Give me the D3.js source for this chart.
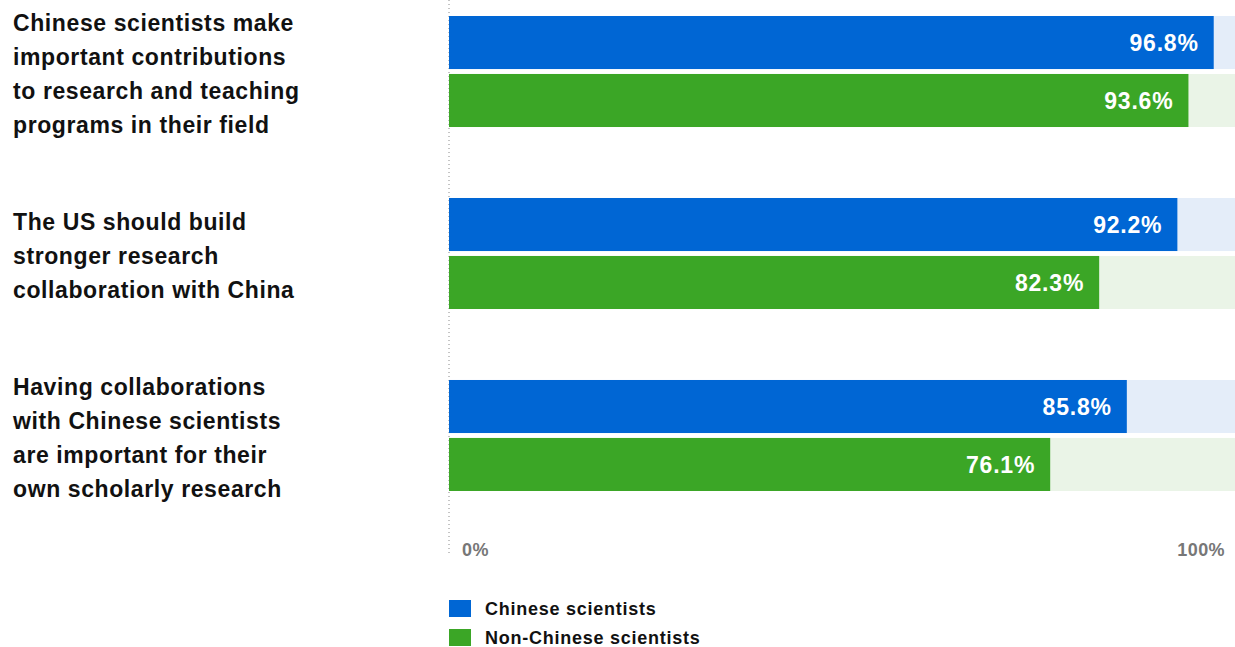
<!DOCTYPE html>
<html>
<head>
<meta charset="utf-8">
<script src="https://cdn.jsdelivr.net/npm/d3@7"></script>
<style>
  html, body { margin: 0; padding: 0; background: #ffffff; }
  svg { display: block; }
  text { font-family: "Liberation Sans", Arial, Helvetica, sans-serif; }
</style>
</head>
<body>
<svg id="chart" width="1235" height="647"></svg>
<script>
// ---- data ----
const categories = [
  "Chinese scientists make important contributions to research and teaching programs in their field",
  "The US should build stronger research collaboration with China",
  "Having collaborations with Chinese scientists are important for their own scholarly research"
];
const categoryLines = [
  ["Chinese scientists make", "important contributions", "to research and teaching", "programs in their field"],
  ["The US should build", "stronger research", "collaboration with China"],
  ["Having collaborations", "with Chinese scientists", "are important for their", "own scholarly research"]
];
const seriesNames = ["Chinese scientists", "Non-Chinese scientists"];
const chineseValues = [96.8, 92.2, 85.8];
const nonChineseValues = [93.6, 82.3, 76.1];
const tickValues = [0, 100];
const tickLabels = ["0%", "100%"];

// ---- style ----
const colors = ["#0066d4", "#3ba626"];
const bgColors = ["#e4edf9", "#eaf4e7"];

const svg = d3.select("#chart");

const x = d3.scaleLinear().domain([0, 100]).range([449, 1239]);
const y = d3.scaleBand().domain(categories).range([16, 491]).paddingInner(0.39).paddingOuter(0);
const ySub = d3.scaleBand().domain(seriesNames).range([0, y.bandwidth()]).paddingInner(0.085);

const rows = categories.map((c, i) => ({
  cat: c,
  lines: categoryLines[i],
  vals: [chineseValues[i], nonChineseValues[i]]
}));

// dotted zero line
svg.append("line")
  .attr("x1", x(0)).attr("x2", x(0))
  .attr("y1", 0).attr("y2", 556)
  .attr("stroke", "#8a8a8a").attr("stroke-width", 1)
  .attr("stroke-dasharray", "1,3");

const g = svg.selectAll("g.row").data(rows).join("g")
  .attr("class", "row")
  .attr("transform", d => `translate(0,${y(d.cat)})`);

seriesNames.forEach((s, si) => {
  // background track
  g.append("rect")
    .attr("x", x(0)).attr("y", ySub(s))
    .attr("width", x(100) - x(0)).attr("height", ySub.bandwidth())
    .attr("fill", bgColors[si]);
  // value bar
  g.append("rect")
    .attr("x", x(0)).attr("y", ySub(s))
    .attr("width", d => x(d.vals[si]) - x(0)).attr("height", ySub.bandwidth())
    .attr("fill", colors[si]);
  // value label
  g.append("text")
    .attr("x", d => x(d.vals[si]) - 15)
    .attr("y", ySub(s) + ySub.bandwidth() / 2 + 8.5)
    .attr("text-anchor", "end")
    .attr("fill", "#ffffff")
    .attr("font-size", 23)
    .attr("font-weight", "bold")
    .attr("letter-spacing", "0.8px")
    .text(d => d.vals[si].toFixed(1) + "%");
});

// category labels (vertically centred on the group)
const lh = 34.3;
g.each(function(d) {
  const n = d.lines.length;
  const cy = y.bandwidth() / 2;
  const first = cy - (n - 1) * lh / 2 + 8.5 + 2;
  const t = d3.select(this).append("text")
    .attr("font-size", 23)
    .attr("font-weight", "bold")
    .attr("fill", "#111111")
    .attr("letter-spacing", "0.6px");
  d.lines.forEach((ln, li) => {
    t.append("tspan").attr("x", 13).attr("y", first + li * lh).text(ln);
  });
});

// axis tick labels
svg.selectAll("text.tick").data(tickValues).join("text")
  .attr("class", "tick")
  .attr("x", (d, i) => i === 0 ? x(d) + 13 : x(d) - 14)
  .attr("y", 556)
  .attr("text-anchor", (d, i) => i === 0 ? "start" : "end")
  .attr("fill", "#777777")
  .attr("font-size", 18)
  .attr("font-weight", "bold")
  .attr("letter-spacing", "0.4px")
  .text((d, i) => tickLabels[i]);

// legend
const leg = svg.selectAll("g.legend").data(seriesNames).join("g")
  .attr("class", "legend")
  .attr("transform", (d, i) => `translate(449,${600 + i * 29})`);
leg.append("rect")
  .attr("width", 22).attr("height", 17)
  .attr("fill", (d, i) => colors[i]);
leg.append("text")
  .attr("x", 36).attr("y", 15)
  .attr("font-size", 18)
  .attr("font-weight", "bold")
  .attr("letter-spacing", "0.75px")
  .attr("fill", "#111111")
  .text(d => d);
</script>
</body>
</html>
